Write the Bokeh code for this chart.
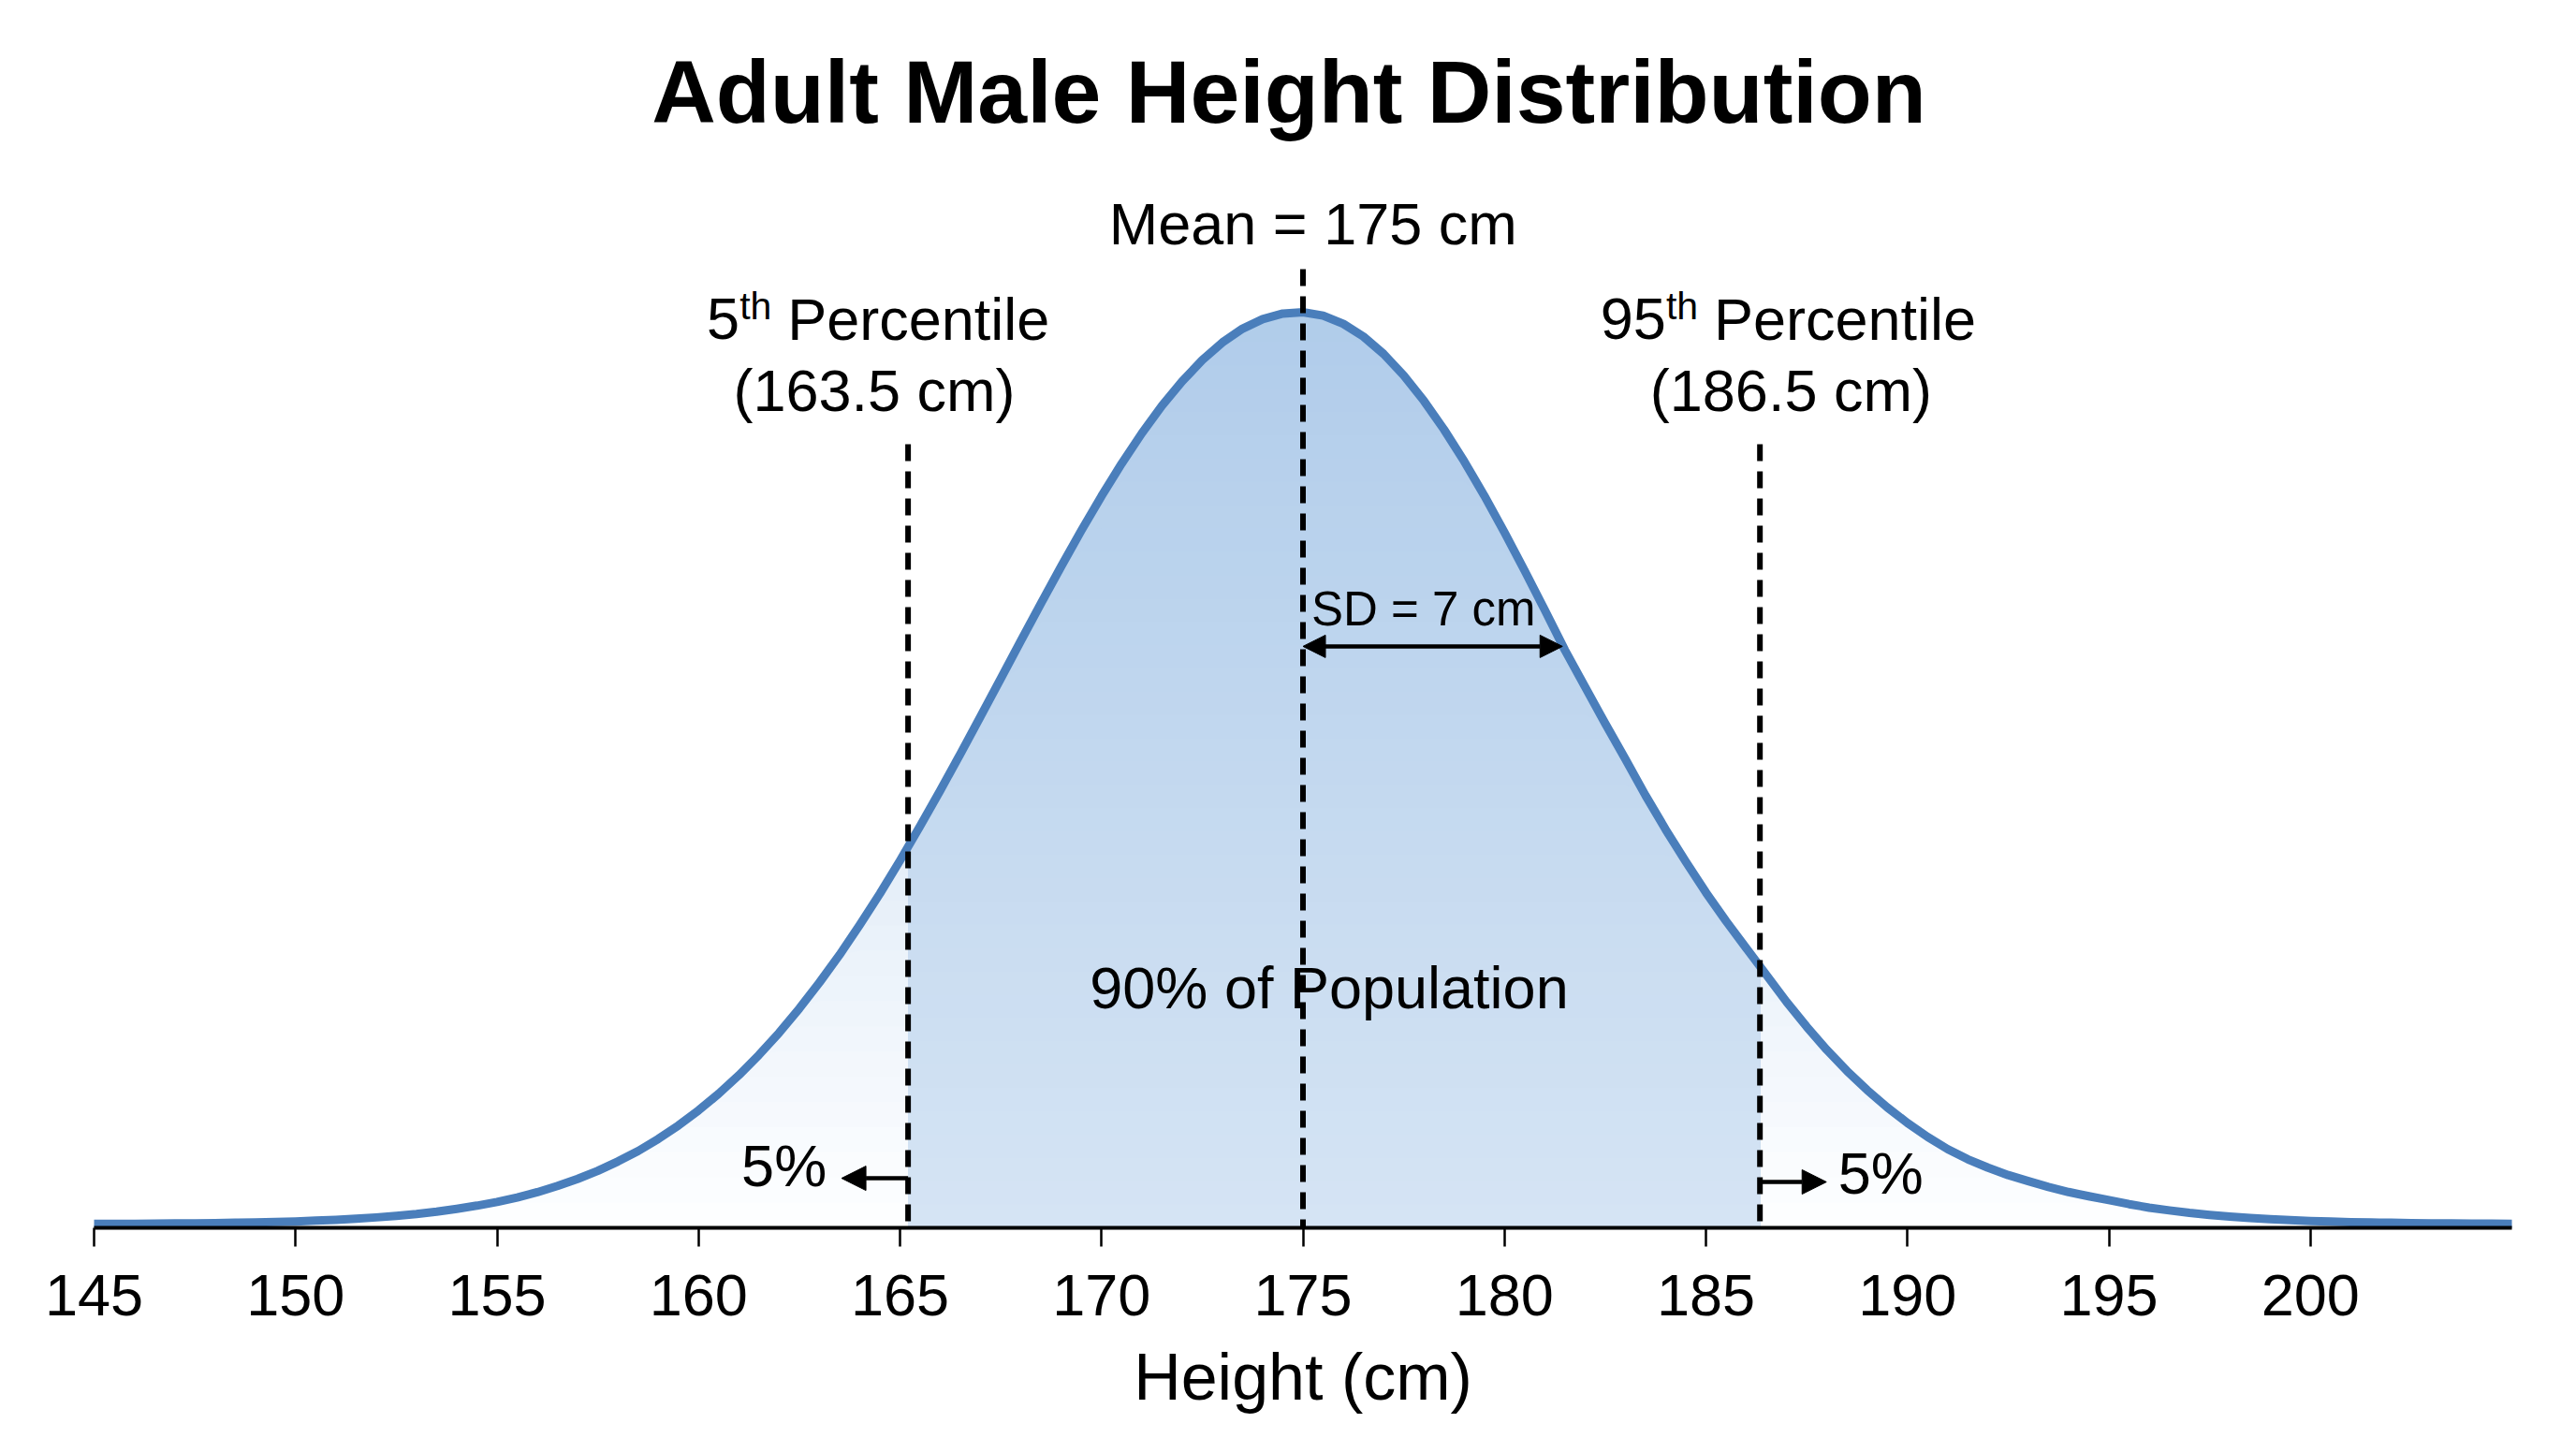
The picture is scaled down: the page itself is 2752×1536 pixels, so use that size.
import numpy as np
from bokeh.plotting import figure
from bokeh.models import Range1d, Arrow, NormalHead, FixedTicker
from bokeh.core.properties import value
from bokeh.embed import file_html
from bokeh.resources import INLINE

# ---------------- data ----------------
height_cm = [145 + 0.5 * i for i in range(121)]
density = [
    0.00024, 0.00024, 0.00024, 0.00025, 0.00026, 0.00027, 0.00028, 0.00030, 0.00032, 0.00035,  # 145-149.5
    0.00038, 0.00043, 0.00048, 0.00054, 0.00062, 0.00071, 0.00082, 0.00096, 0.00113, 0.00132,  # 150-154.5
    0.00154, 0.00181, 0.00212, 0.00249, 0.00291, 0.00339, 0.00395, 0.00457, 0.00529, 0.00609,  # 155-159.5
    0.00699, 0.00798, 0.00908, 0.01029, 0.01161, 0.01305, 0.01460, 0.01625, 0.01803, 0.01989,  # 160-164.5
    0.02186, 0.02392, 0.02604, 0.02822, 0.03045, 0.03269, 0.03495, 0.03718, 0.03937, 0.04151,  # 165-169.5
    0.04355, 0.04549, 0.04729, 0.04893, 0.05038, 0.05165, 0.05270, 0.05352, 0.05409, 0.05442,  # 170-174.5
    0.05450, 0.05430, 0.05381, 0.05305, 0.05202, 0.05074, 0.04923, 0.04752, 0.04563, 0.04358,  # 175-179.5
    0.04140, 0.03912, 0.03678, 0.03439, 0.03220, 0.03002, 0.02790, 0.02574, 0.02371, 0.02179,  # 180-184.5
    0.01996, 0.01826, 0.01665, 0.01505, 0.01345, 0.01197, 0.01059, 0.00934, 0.00820, 0.00717,  # 185-189.5
    0.00624, 0.00541, 0.00468, 0.00408, 0.00358, 0.00314, 0.00278, 0.00243, 0.00213, 0.00188,  # 190-194.5
    0.00165, 0.00141, 0.00120, 0.00104, 0.00089, 0.00077, 0.00067, 0.00058, 0.00051, 0.00046,  # 195-199.5
    0.00041, 0.00037, 0.00034, 0.00032, 0.00030, 0.00028, 0.00027, 0.00026, 0.00025, 0.00025,  # 200-204.5
    0.00024,                                                                                     # 205
]
tick_values = [145, 150, 155, 160, 165, 170, 175, 180, 185, 190, 195, 200]

mean_cm = 175
sd_cm = 7
sd_arrow_end_cm = 181.44          # where the SD arrow meets the curve
p5_label_cm = 163.5
p95_label_cm = 186.5
p5_line_cm = 165.2                # drawn positions of the percentile lines
p95_line_cm = 186.34
tail_pct = 5
center_pct = 90

# ---------------- styling constants ----------------
FONT = "Liberation Sans"
CURVE_COLOR = "#4a7ebb"
Y_TOP = 0.073056
PX_PER_UNIT = 17945.0
MEAN_LINE_TOP = 0.05706
PCT_LINE_TOP = 0.04664

xs = np.array(height_cm, dtype=float)
ys = np.array(density, dtype=float)

p = figure(width=2752, height=1536, output_backend="svg", toolbar_location=None,
           x_range=Range1d(145, 205), y_range=Range1d(0, Y_TOP),
           y_axis_location=None, min_border_left=100, min_border_right=69,
           min_border_top=0, min_border_bottom=225)
p.outline_line_color = None
p.xgrid.visible = False
p.ygrid.visible = False
p.background_fill_color = "white"
p.border_fill_color = "white"


def hexmix(c1, c2, t):
    a = [int(c1[i:i + 2], 16) for i in (1, 3, 5)]
    b = [int(c2[i:i + 2], 16) for i in (1, 3, 5)]
    return "#%02x%02x%02x" % tuple(int(round(a[j] + (b[j] - a[j]) * t)) for j in range(3))


def gradient_fill(x_lo, x_hi, y_max, n, c_bottom, c_top):
    inner = xs[(xs > x_lo) & (xs < x_hi)]
    xb = np.concatenate([[x_lo], inner, [x_hi]])
    yb = np.interp(xb, xs, ys)
    levels = np.linspace(0, y_max, n + 1)
    # draw from the top band down so that lower bands overlay (no seams)
    for k in range(n - 1, -1, -1):
        top = yb if k == n - 1 else np.minimum(yb, levels[k + 1])
        col = hexmix(c_bottom, c_top, k / (n - 1))
        p.varea(x=xb, y1=np.zeros_like(xb), y2=top, fill_color=col, fill_alpha=1.0)


# tails (very faint) and central 90% region
gradient_fill(145, p5_line_cm, 0.024, 16, "#fdfeff", "#e3edf8")
gradient_fill(p95_line_cm, 205, 0.024, 16, "#fdfeff", "#e3edf8")
gradient_fill(p5_line_cm, p95_line_cm, 0.0555, 40, "#d5e4f4", "#b0ccea")

# curve
p.line(xs, ys, line_color=CURVE_COLOR, line_width=9, line_join="round", line_cap="round")

# dashed reference lines
p.segment(x0=[p5_line_cm, mean_cm, p95_line_cm], y0=[PCT_LINE_TOP, MEAN_LINE_TOP, PCT_LINE_TOP],
          x1=[p5_line_cm, mean_cm, p95_line_cm], y1=[0, 0, 0],
          line_color="black", line_width=6, line_dash="18 11")

# arrows
ARROW_Y_LEFT = 0.00295
ARROW_Y_RIGHT = 0.00273
SD_ARROW_Y = 0.03461
p.add_layout(Arrow(x_start=p5_line_cm, y_start=ARROW_Y_LEFT, x_end=p5_line_cm - 1.65, y_end=ARROW_Y_LEFT,
                   line_width=4.5, line_color="black",
                   end=NormalHead(size=26, fill_color="black", line_color="black", line_width=1)))
p.add_layout(Arrow(x_start=p95_line_cm, y_start=ARROW_Y_RIGHT, x_end=p95_line_cm + 1.65, y_end=ARROW_Y_RIGHT,
                   line_width=4.5, line_color="black",
                   end=NormalHead(size=26, fill_color="black", line_color="black", line_width=1)))
p.add_layout(Arrow(x_start=mean_cm, y_start=SD_ARROW_Y, x_end=sd_arrow_end_cm, y_end=SD_ARROW_Y,
                   line_width=4.5, line_color="black",
                   start=NormalHead(size=24, fill_color="black", line_color="black", line_width=1),
                   end=NormalHead(size=24, fill_color="black", line_color="black", line_width=1)))

BASE_SHIFT = 0.36   # em; compensates the renderer's baseline placement


def txt(x, y, s, size, align="center", style="normal", x_offset=0):
    y_adj = y + BASE_SHIFT * size / PX_PER_UNIT
    p.text(x=[x], y=[y_adj], text=[s], text_font=value(FONT), text_font_size=value(f"{size}px"),
           text_align=align, text_baseline="alphabetic", text_color="black",
           text_font_style=style, x_offset=x_offset)


# title
txt(174.65, 0.0657, "Adult Male Height Distribution", 95, style="bold")
# mean label
txt(175.25, 0.05850, f"Mean = {mean_cm} cm", 63)

# percentile labels (superscript "th" composed from pieces)
L1 = 0.05283
SUP = 0.05405
L2 = 0.04859
for anchor, num, val, center in [(161.02, "5", p5_label_cm, 164.36), (184.01, "95", p95_label_cm, 187.11)]:
    txt(anchor, L1, num, 63, align="right")
    txt(anchor, SUP, "th", 41, align="left")
    txt(anchor, L1, "Percentile", 63, align="left", x_offset=51)
    txt(center, L2, f"({val} cm)", 63)

# SD label
txt(175.21, 0.03583, f"SD = {sd_cm} cm", 51, align="left")
# central share
txt(175.65, 0.01304, f"{center_pct}% of Population", 63)
# tail shares
txt(163.18, 0.00245, f"{tail_pct}%", 63, align="right")
txt(188.28, 0.00201, f"{tail_pct}%", 63, align="left")

# x axis
ax = p.xaxis[0]
ax.ticker = FixedTicker(ticks=tick_values)
ax.axis_label = "Height (cm)"
ax.axis_label_text_font = FONT
ax.axis_label_text_font_size = "70px"
ax.axis_label_text_font_style = "normal"
ax.axis_label_text_color = "black"
ax.axis_label_standoff = 24
ax.major_label_text_font = FONT
ax.major_label_text_font_size = "63px"
ax.major_label_text_color = "black"
ax.major_label_standoff = 30
ax.axis_line_color = "black"
ax.axis_line_width = 4
ax.major_tick_line_color = "black"
ax.major_tick_line_width = 2.5
ax.major_tick_out = 20
ax.major_tick_in = 0
ax.minor_tick_line_color = None

open("out.html", "w").write(file_html(p, INLINE))
